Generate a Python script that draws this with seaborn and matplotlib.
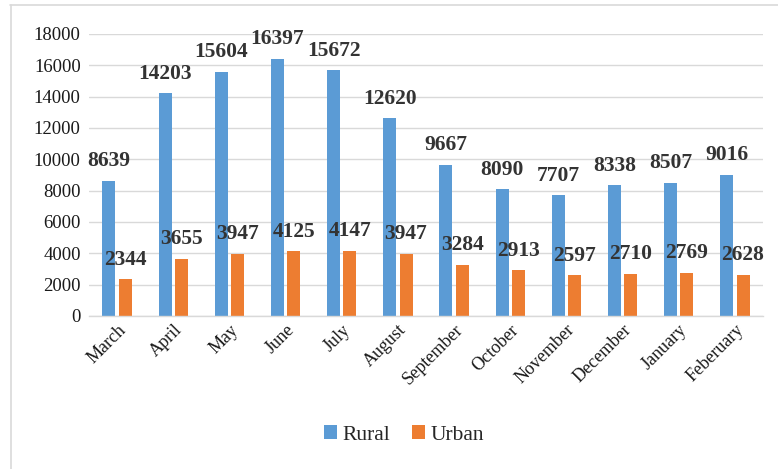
import matplotlib
matplotlib.use("Agg")
import matplotlib.pyplot as plt
import seaborn as sns
import pandas as pd
from matplotlib.lines import Line2D
from matplotlib.patches import Patch

months = ["March", "April", "May", "June", "July", "August", "September",
          "October", "November", "December", "January", "Feberuary"]
rural = [8639, 14203, 15604, 16397, 15672, 12620, 9667, 8090, 7707, 8338, 8507, 9016]
urban = [2344, 3655, 3947, 4125, 4147, 3947, 3284, 2913, 2597, 2710, 2769, 2628]
series = ["Rural", "Urban"]
colors = ["#5B9BD5", "#ED7D31"]
yticks = [0, 2000, 4000, 6000, 8000, 10000, 12000, 14000, 16000, 18000]

df = pd.DataFrame({
    "Month": months * 2,
    "Value": rural + urban,
    "Area": [series[0]] * len(months) + [series[1]] * len(months),
})

sns.set_theme(style="white")
plt.rcParams["font.family"] = ["Liberation Serif", "DejaVu Serif"]

fig = plt.figure(figsize=(7.78, 4.69), dpi=100)
ax = fig.add_axes([89 / 778, 1 - 316 / 469, (763 - 89) / 778, (316 - 34) / 469])

sns.barplot(data=df, x="Month", y="Value", hue="Area", order=months,
            hue_order=series, palette=colors, width=0.58, gap=0.2,
            ax=ax, legend=False, saturation=1, edgecolor="none")

ax.set_ylim(0, 18000)
ax.set_xlim(-0.5, len(months) - 0.5)
ax.set_yticks(yticks)
ax.set_yticklabels([str(t) for t in yticks], fontsize=13.5, color="#1a1a1a")
ax.yaxis.grid(True, color="#D9D9D9", linewidth=1)
ax.set_axisbelow(True)
ax.tick_params(axis="both", length=0, pad=6)
ax.tick_params(axis="x", pad=4)
plt.setp(ax.get_xticklabels(), rotation=45, ha="right", rotation_mode="anchor",
         fontsize=13, color="#1a1a1a")
ax.set_xlabel("")
ax.set_ylabel("")
for s in ["top", "right", "left"]:
    ax.spines[s].set_visible(False)
ax.spines["bottom"].set_color("#D9D9D9")
ax.spines["bottom"].set_linewidth(1)

for cont in ax.containers:
    for bar in cont:
        h = bar.get_height()
        ax.annotate(f"{int(round(h))}", (bar.get_x() + bar.get_width() / 2, h),
                    xytext=(0, 7), textcoords="offset points", ha="center",
                    va="bottom", fontsize=15.5, fontweight="bold", color="#333333")

handles = [Patch(facecolor=c, edgecolor="none") for c in colors]
fig.legend(handles, series, loc="center", bbox_to_anchor=(404 / 778, 1 - 435 / 469),
           ncol=2, frameon=False, fontsize=15.5, handlelength=0.6, handleheight=0.6,
           handletextpad=0.25, columnspacing=1.0)

fig.add_artist(Line2D([10 / 778, 1], [1 - 5.5 / 469, 1 - 5.5 / 469],
                      transform=fig.transFigure, color="#D9D9D9", linewidth=1.2))
fig.add_artist(Line2D([10.5 / 778, 10.5 / 778], [0, 1 - 5.5 / 469],
                      transform=fig.transFigure, color="#D9D9D9", linewidth=1.2))

fig.savefig("out.png", dpi=100)
